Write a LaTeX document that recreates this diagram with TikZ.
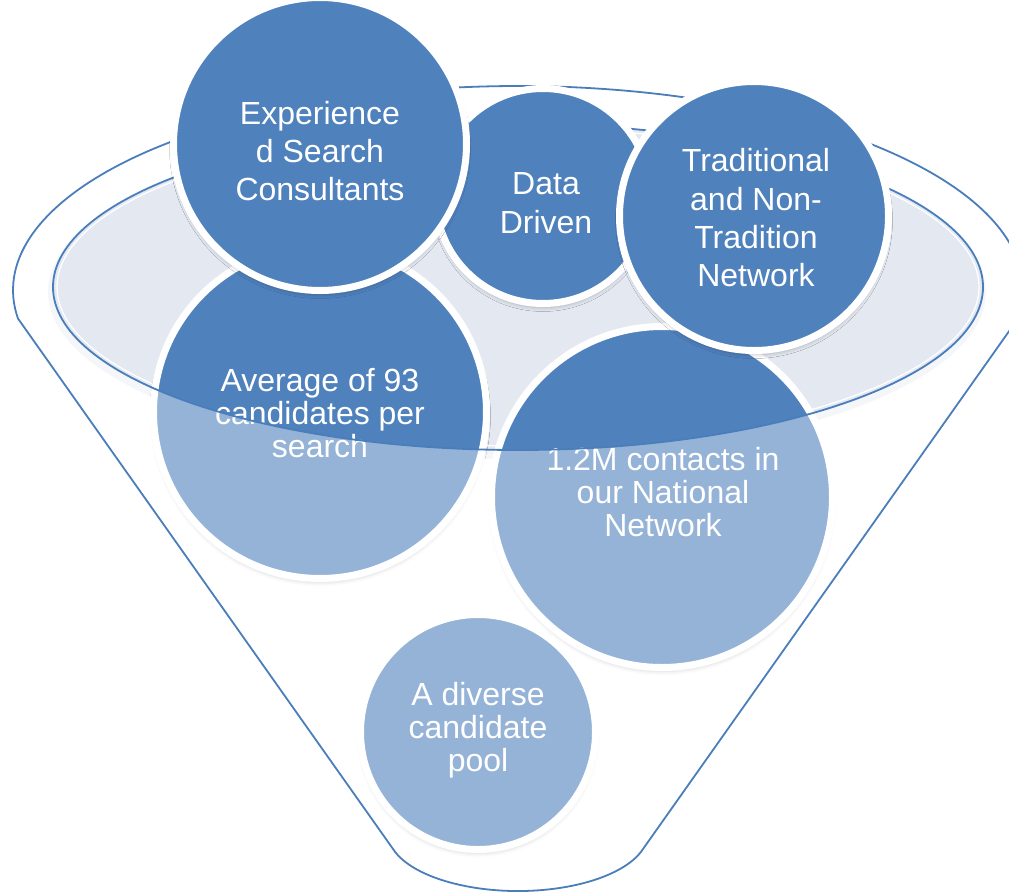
\documentclass[tikz,border=0pt]{standalone}
\usepackage{fontspec}
\setmainfont{Liberation Sans}
\usetikzlibrary{shadows.blur}
\definecolor{dk}{HTML}{4F81BD}
\definecolor{ln}{HTML}{4A7EBB}
\definecolor{ell}{HTML}{E3E8F1}
\definecolor{ellsh}{HTML}{EEF1F6}
\tikzset{
  bubble/.style={circle, fill=dk, draw=white, line width=7pt, inner sep=0pt,
    blur shadow={shadow xshift=0pt, shadow yshift=-4pt, shadow blur radius=4pt,
                 shadow opacity=25, shadow scale=1.0}},
  toptext/.style={text=white, align=center, inner sep=0pt, font=\fontsize{32}{38.3}\selectfont},
  lowtext/.style={text=white, align=center, inner sep=0pt, font=\fontsize{32}{33}\selectfont},
  funnelline/.style={draw=ln, line width=1.8pt},
}
\begin{document}
\begin{tikzpicture}[x=1pt,y=-1pt]
\useasboundingbox (0,0) rectangle (1009,892);
\clip (0,0) rectangle (1009,892);

% inner (top) ellipse of the funnel
\fill[ellsh] (517,292) ellipse [x radius=469, y radius=167];
\fill[ell] (518,287) ellipse [x radius=465, y radius=163];
\draw[white, line width=1.3pt] (518,287) ellipse [x radius=461, y radius=159];

% lower circles
\node[bubble, minimum size=333pt] (avg) at (320,412) {};
\node[lowtext] (avgt) at (320,413) {Average of 93\\candidates per\\search};
\node[bubble, minimum size=341pt] (nat) at (662,497) {};
\node[lowtext] (natt) at (663,492) {1.2M contacts in\\our National\\Network};
\node[bubble, minimum size=235pt] (pool) at (478,732) {};
\node[lowtext] (poolt) at (478,730) {A diverse\\candidate\\pool};

% translucent funnel body over the lower circles
\fill[white, fill opacity=0.4, even odd rule]
  (17.9,318.4) -- (395.1,851.9)
  arc[start angle=161, end angle=19, x radius=130, y radius=58]
  -- (1018.1,318.4)
  arc[start angle=8, end angle=-188, x radius=505, y radius=204] -- cycle
  (518,287) ellipse [x radius=465, y radius=163];

% outlines
\draw[funnelline] (518,287) ellipse [x radius=465, y radius=163];
\draw[funnelline, line join=round]
  (17.9,318.4) -- (395.1,851.9)
  arc[start angle=161, end angle=19, x radius=130, y radius=58]
  -- (1018.1,318.4)
  arc[start angle=8, end angle=-188, x radius=505, y radius=204] -- cycle;

% top circles
\node[bubble, minimum size=215pt] (data) at (543,196) {};
\node[toptext] (datat) at (546,203) {Data\\Driven};
\node[bubble, minimum size=293pt] (exp) at (320,144) {};
\node[toptext] (expt) at (320,151) {Experience\\d Search\\Consultants};
\node[bubble, minimum size=269pt] (trad) at (754,216) {};
\node[toptext] (tradt) at (756,218) {Traditional\\and Non-\\Tradition\\Network};
\end{tikzpicture}
\end{document}
